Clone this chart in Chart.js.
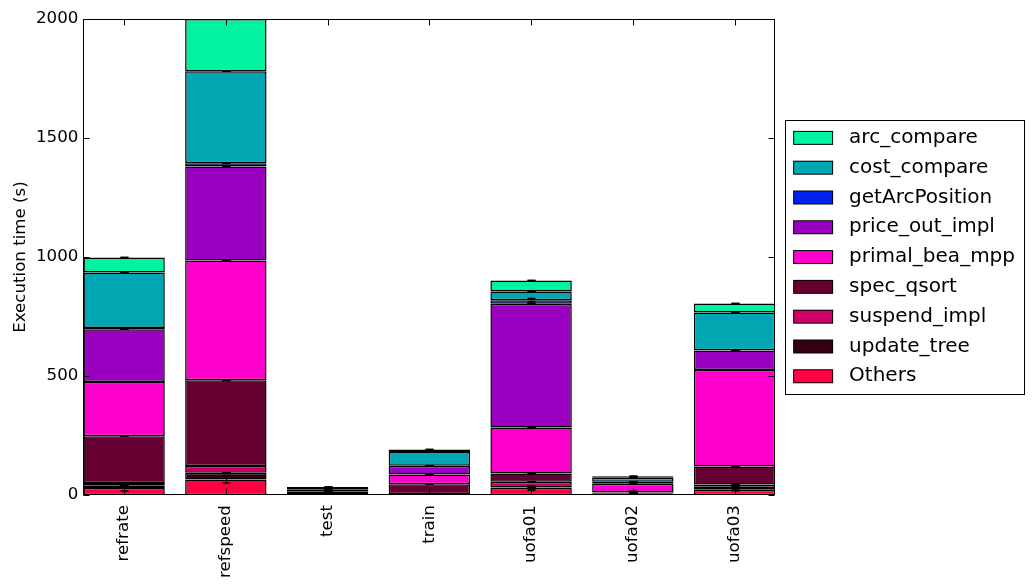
<!DOCTYPE html>
<html>
<head>
<meta charset="utf-8">
<script src="https://cdn.jsdelivr.net/npm/chart.js@4.4.0/dist/chart.umd.min.js"></script>
<style>
html,body{margin:0;padding:0;background:#ffffff;}
#wrap{width:1034px;height:584px;}
</style>
</head>
<body>
<div id="wrap"><canvas id="c" width="1034" height="584"></canvas></div>
<script>
// ---- data ----
const categories = ['refrate', 'refspeed', 'test', 'train', 'uofa01', 'uofa02', 'uofa03'];
const yTickValues = [0, 500, 1000, 1500, 2000];

// stacked from bottom to top
const others        = [30, 66, 1, 1, 30, 3, 22];
const updateTree    = [11, 28, 1, 1, 2, 5, 13];
const suspendImpl   = [10, 28, 0.5, 1, 24, 1, 9];
const specQsort     = [196, 360, 6, 43, 35, 2, 76];
const primalBeaMpp  = [228, 504, 5, 40, 193, 37, 406];
const priceOutImpl  = [222, 394, 8, 36, 520, 7, 81];
const getArcPos     = [5, 14, 0.5, 1, 15, 1, 1];
const costCompare   = [233, 387, 8, 58, 36, 17, 159];
const arcCompare    = [63, 219, 4, 10, 46, 6, 38];

// error bar half-lengths
const othersErr      = [13, 16, 3, 5, 9, 3, 4];
const updateTreeErr  = [0, 0, 0, 0, 0, 0, 0];
const suspendImplErr = [0, 0, 0, 0, 0, 0, 0];
const specQsortErr   = [0, 0, 0, 0, 0, 6, 0];
const primalErr      = [0, 0, 0, 0, 0, 0, 0];
const priceOutErr    = [0, 0, 0, 0, 0, 0, 0];
const getArcErr      = [0, 0, 0, 0, 7, 0, 0];
const costErr        = [0, 0, 0, 0, 0, 0, 0];
const arcErr         = [0, 0, 0, 0, 0, 0, 0];

const seriesNames  = ['Others', 'update_tree', 'suspend_impl', 'spec_qsort', 'primal_bea_mpp', 'price_out_impl', 'getArcPosition', 'cost_compare', 'arc_compare'];
const seriesValues = [others, updateTree, suspendImpl, specQsort, primalBeaMpp, priceOutImpl, getArcPos, costCompare, arcCompare];
const seriesErrors = [othersErr, updateTreeErr, suspendImplErr, specQsortErr, primalErr, priceOutErr, getArcErr, costErr, arcErr];
const seriesColors = ['#ff0044', '#330011', '#cc0066', '#660033', '#ff00cc', '#9900c0', '#0022ee', '#00a6b2', '#00f2a2'];

// ---- legend swatches (rect with a black edge, offset inside a wider canvas) ----
const SW_W = 54, SW_H = 16;
function makeSwatch(color) {
  const cv = document.createElement('canvas');
  cv.width = SW_W; cv.height = SW_H;
  const g = cv.getContext('2d');
  g.fillStyle = color;
  g.fillRect(8, 1, 40, 14);
  g.strokeStyle = '#000';
  g.lineWidth = 1;
  g.strokeRect(8.5, 1.5, 39, 13);
  return cv;
}
const swatches = seriesColors.map(makeSwatch);

const LEG_PAD = 9.8;

const decorPlugin = {
  id: 'decor',
  afterDatasetsDraw(chart) {
    const ctx = chart.ctx;
    const ca = chart.chartArea;
    const xs = chart.scales.x, ys = chart.scales.y;
    ctx.save();
    // error bars
    ctx.beginPath();
    ctx.rect(ca.left, ca.top, ca.right - ca.left, ca.bottom - ca.top);
    ctx.clip();
    ctx.strokeStyle = '#000';
    const cum = categories.map(() => 0);
    seriesValues.forEach((vals, d) => {
      vals.forEach((v, i) => {
        cum[i] += v;
        const e = seriesErrors[d][i];
        const px = Math.round(xs.getPixelForValue(i)) + 0.5;
        const y1 = ys.getPixelForValue(cum[i] + e);
        const y2 = ys.getPixelForValue(cum[i] - e);
        ctx.lineWidth = 1;
        if (e > 0) {
          ctx.beginPath();
          ctx.moveTo(px, y1); ctx.lineTo(px, y2);
          ctx.stroke();
        }
        ctx.lineWidth = 1.6;
        [y1, y2].forEach(yy => {
          ctx.beginPath();
          ctx.moveTo(px - 4, yy); ctx.lineTo(px + 4, yy);
          ctx.stroke();
        });
      });
    });
    ctx.restore();

    ctx.save();
    ctx.strokeStyle = '#000';
    ctx.lineWidth = 1;
    const L = Math.round(ca.left) + 0.5, R = Math.round(ca.right) - 0.5;
    const T = Math.round(ca.top) + 0.5, B = Math.round(ca.bottom) - 0.5;
    // inward ticks
    ctx.beginPath();
    yTickValues.forEach(v => {
      const py = Math.round(ys.getPixelForValue(v)) + 0.5;
      ctx.moveTo(L, py); ctx.lineTo(L + 6, py);
      ctx.moveTo(R, py); ctx.lineTo(R - 6, py);
    });
    categories.forEach((c, i) => {
      const px = Math.round(xs.getPixelForValue(i)) + 0.5;
      ctx.moveTo(px, B); ctx.lineTo(px, B - 6);
      ctx.moveTo(px, T); ctx.lineTo(px, T + 6);
    });
    ctx.stroke();
    // frame
    ctx.strokeRect(L, T, R - L, B - T);
    ctx.restore();
  },
  afterDraw(chart) {
    const lg = chart.legend;
    if (!lg || !lg.columnSizes) return;
    const colH = lg.columnSizes[0].height;
    const y0 = (lg.top + LEG_PAD + lg.bottom - colH) / 2;
    const x0 = lg.left + LEG_PAD;
    const ctx = chart.ctx;
    ctx.save();
    ctx.strokeStyle = '#000';
    ctx.lineWidth = 1;
    const left = Math.round(x0) + 0.5;
    const top = Math.round(y0 - 7.5) + 0.5;
    const bottom = Math.round(y0 + colH - 2) + 0.5;
    ctx.strokeRect(left, top, 239, bottom - top);
    ctx.restore();
  }
};

Chart.defaults.font.family = "'DejaVu Sans', sans-serif";
Chart.defaults.color = '#000';

const datasets = seriesNames.map((name, d) => ({
  label: name,
  data: seriesValues[d].map((v, i) => ({ x: i, y: v })),
  backgroundColor: seriesColors[d],
  borderColor: '#000',
  borderWidth: 1.5,
  borderSkipped: false,
  barPercentage: 1.0,
  categoryPercentage: 0.8
}));

new Chart(document.getElementById('c'), {
  type: 'bar',
  data: { datasets },
  plugins: [decorPlugin],
  options: {
    responsive: false,
    animation: false,
    devicePixelRatio: 1,
    layout: { padding: { left: 3, right: 9, top: 19, bottom: -4 } },
    plugins: {
      tooltip: { enabled: false },
      legend: {
        position: 'right',
        fullSize: false,
        reverse: true,
        labels: {
          usePointStyle: true,
          pointStyleWidth: SW_W,
          boxHeight: 20,
          padding: LEG_PAD,
          color: '#000',
          font: { size: 20, family: "'DejaVu Sans', sans-serif" },
          generateLabels(chart) {
            const items = Chart.defaults.plugins.legend.labels.generateLabels(chart);
            items.forEach(it => { it.pointStyle = swatches[it.datasetIndex]; });
            return items;
          }
        }
      }
    },
    scales: {
      x: {
        type: 'linear',
        offset: false,
        min: -0.4,
        max: 6.4,
        stacked: true,
        grid: { display: false, drawTicks: false, offset: false },
        border: { display: false },
        afterBuildTicks(scale) { scale.ticks = categories.map((c, i) => ({ value: i })); },
        ticks: {
          autoSkip: false,
          minRotation: 90,
          maxRotation: 90,
          padding: 10,
          color: '#000',
          font: { size: 16.67 },
          callback: (v) => categories[v]
        }
      },
      y: {
        min: 0,
        max: 2000,
        stacked: true,
        grid: { display: false, drawTicks: false },
        border: { display: false },
        afterBuildTicks(scale) { scale.ticks = yTickValues.map(v => ({ value: v })); },
        ticks: {
          padding: 5,
          color: '#000',
          font: { size: 16.67 },
          callback: (v) => String(v)
        },
        title: {
          display: true,
          text: 'Execution time (s)',
          color: '#000',
          font: { size: 16.67 },
          padding: { top: 8, bottom: 0 }
        }
      }
    }
  }
});
</script>
</body>
</html>
